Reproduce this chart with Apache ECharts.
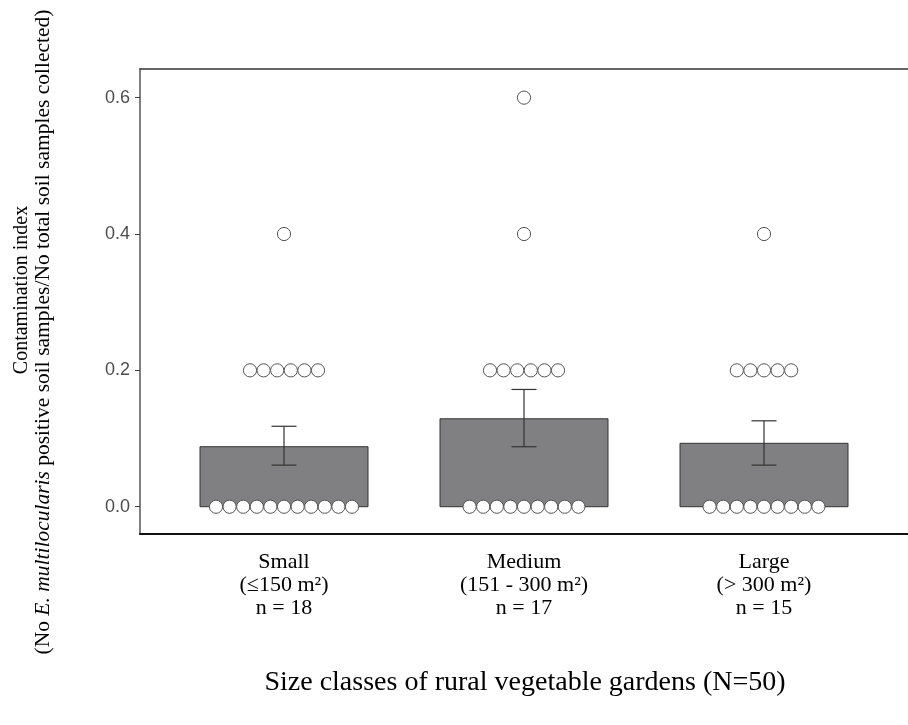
<!DOCTYPE html>
<html>
<head>
<meta charset="utf-8">
<script src="https://cdn.jsdelivr.net/npm/echarts@6/dist/echarts.min.js"></script>
<style>
html,body{margin:0;padding:0;background:#fff;}
#main{width:908px;height:725px;}
</style>
</head>
<body>
<div id="main"></div>
<script>
// ---- data ----
var categories = ['Small', 'Medium', 'Large'];
var sizeRanges = ['(\u2264150 m\u00B2)', '(151 - 300 m\u00B2)', '(> 300 m\u00B2)'];
var sampleCounts = [18, 17, 15];
var smallValues = [0,0,0,0,0,0,0,0,0,0,0, 0.2,0.2,0.2,0.2,0.2,0.2, 0.4];
var mediumValues = [0,0,0,0,0,0,0,0,0, 0.2,0.2,0.2,0.2,0.2,0.2, 0.4, 0.6];
var largeValues = [0,0,0,0,0,0,0,0,0, 0.2,0.2,0.2,0.2,0.2, 0.4];
var meanValues = [0.088, 0.129, 0.093];
var errLow = [0.061, 0.088, 0.061];
var errHigh = [0.118, 0.172, 0.126];
var yTicks = [0, 0.2, 0.4, 0.6];

var groupValues = [smallValues, mediumValues, largeValues];
var serif = "'Liberation Serif','Times New Roman',serif";
var sans = "'Liberation Sans',Arial,sans-serif";

var barData = categories.map(function (c, i) { return [i + 1, meanValues[i]]; });
var errData = categories.map(function (c, i) { return [i + 1, errLow[i], errHigh[i]]; });
// dot data: [x, y, index within stack, stack size]
var dotData = [];
groupValues.forEach(function (vals, gi) {
  var groups = {};
  vals.forEach(function (v) { (groups[v] = groups[v] || []).push(v); });
  Object.keys(groups).forEach(function (k) {
    var arr = groups[k];
    arr.forEach(function (v, j) { dotData.push([gi + 1, v, j, arr.length]); });
  });
});

var chart = echarts.init(document.getElementById('main'), null, {renderer: 'canvas'});
var option = {
  backgroundColor: '#fff',
  animation: false,
  grid: {left: 140, right: -4, top: 69, bottom: 191, containLabel: false},
  xAxis: [{
    type: 'value', min: 0.4, max: 3.6, position: 'bottom',
    splitLine: {show: false},
    axisLine: {show: true, onZero: false, lineStyle: {color: '#111', width: 2}},
    axisTick: {show: false},
    axisLabel: {
      customValues: [1, 2, 3],
      formatter: function (v) {
        var i = Math.round(v) - 1;
        return categories[i] + '\n' + sizeRanges[i] + '\n' + 'n = ' + sampleCounts[i];
      },
      fontFamily: serif, fontSize: 22, color: '#000', lineHeight: 23, margin: 17
    }
  }, {
    type: 'value', min: 0.4, max: 3.6, position: 'top',
    splitLine: {show: false},
    axisLine: {show: true, onZero: false, lineStyle: {color: '#333', width: 1.5}},
    axisTick: {show: false}, axisLabel: {show: false}
  }],
  yAxis: {
    type: 'value', min: -0.040, max: 0.642,
    splitLine: {show: false},
    axisLine: {show: true, onZero: false, lineStyle: {color: '#555', width: 1.5}},
    axisTick: {show: true, customValues: yTicks, length: 5, lineStyle: {color: '#444'}},
    axisLabel: {
      customValues: yTicks,
      formatter: function (v) { return v.toFixed(1); },
      fontFamily: sans, fontSize: 18, color: '#4d4d4d', margin: 10
    }
  },
  series: [{
    type: 'custom', name: 'bars', data: barData,
    renderItem: function (params, api) {
      var x = api.value(0), y = api.value(1);
      var p0 = api.coord([x - 0.35, 0]);
      var p1 = api.coord([x + 0.35, y]);
      return {
        type: 'rect',
        shape: {x: p0[0], y: p1[1], width: p1[0] - p0[0], height: p0[1] - p1[1]},
        style: {fill: '#808082', stroke: '#333', lineWidth: 1}
      };
    },
    z: 2
  }, {
    type: 'custom', name: 'err', data: errData,
    renderItem: function (params, api) {
      var x = api.value(0);
      var lo = api.coord([x, api.value(1)]);
      var hi = api.coord([x, api.value(2)]);
      var hw = 12.5;
      var st = {stroke: '#333', lineWidth: 1.2};
      return {
        type: 'group',
        children: [
          {type: 'line', shape: {x1: lo[0], y1: lo[1], x2: hi[0], y2: hi[1]}, style: st},
          {type: 'line', shape: {x1: lo[0] - hw, y1: lo[1], x2: lo[0] + hw, y2: lo[1]}, style: st},
          {type: 'line', shape: {x1: hi[0] - hw, y1: hi[1], x2: hi[0] + hw, y2: hi[1]}, style: st}
        ]
      };
    },
    z: 3
  }, {
    type: 'custom', name: 'dots', data: dotData,
    renderItem: function (params, api) {
      var c = api.coord([api.value(0), api.value(1)]);
      var j = api.value(2), n = api.value(3);
      var step = 13.6;
      var cx = c[0] + (j - (n - 1) / 2) * step;
      return {
        type: 'circle',
        shape: {cx: cx, cy: c[1], r: 6.6},
        style: {fill: '#fff', stroke: '#555', lineWidth: 1}
      };
    },
    z: 4
  }],
  graphic: [{
    type: 'text', x: 525, y: 683,
    style: {text: 'Size classes of rural vegetable gardens (N=50)', font: '28px ' + serif, fill: '#000', align: 'center', verticalAlign: 'middle'}
  }, {
    type: 'text', x: 22, y: 290, rotation: Math.PI / 2,
    style: {text: 'Contamination index', font: '20px ' + serif, fill: '#000', align: 'center', verticalAlign: 'middle'}
  }, {
    type: 'text', x: 43, y: 332, rotation: Math.PI / 2,
    style: {
      text: '{n|(No }{i|E. multilocularis}{n| positive soil samples/No total soil samples collected)}',
      align: 'center', verticalAlign: 'middle',
      rich: {
        n: {fontFamily: serif, fontSize: 21.5, fill: '#000'},
        i: {fontFamily: serif, fontSize: 21.5, fontStyle: 'italic', fill: '#000'}
      }
    }
  }]
};
chart.setOption(option);
</script>
</body>
</html>
